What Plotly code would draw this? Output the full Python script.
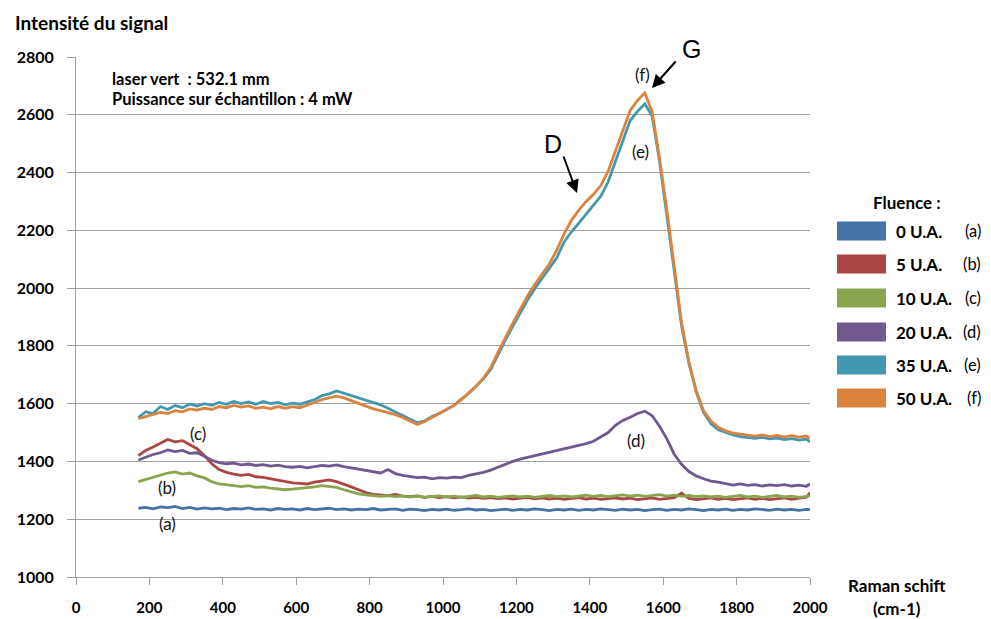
import plotly.graph_objects as go

# ---------------- data ----------------
raman_shift = list(range(170, 2000, 20)) + [2000]

fluence_labels = ["0 U.A.", "5 U.A.", "10 U.A.", "20 U.A.", "35 U.A.", "50 U.A."]
series_tags = ["(a)", "(b)", "(c)", "(d)", "(e)", "(f)"]
colors = ["#4572A7", "#AA4643", "#89A54E", "#71588F", "#4198AF", "#DB843D"]

sig_a = [1238, 1241, 1236, 1243, 1240, 1244, 1237, 1241, 1235, 1239,
         1236, 1238, 1233, 1237, 1235, 1239, 1234, 1236, 1232, 1237,
         1234, 1236, 1232, 1237, 1233, 1235, 1238, 1233, 1236, 1232,
         1235, 1233, 1237, 1232, 1234, 1236, 1231, 1235, 1233, 1230,
         1234, 1232, 1235, 1231, 1233, 1236, 1232, 1234, 1230, 1233,
         1235, 1231, 1234, 1232, 1236, 1233, 1230, 1234, 1232, 1235,
         1231, 1234, 1232, 1236, 1233, 1231, 1235, 1232, 1234, 1230,
         1233, 1235, 1231, 1234, 1232, 1236, 1233, 1230, 1234, 1232,
         1235, 1231, 1234, 1232, 1236, 1233, 1231, 1235, 1232, 1234,
         1231, 1234, 1233]

sig_b = [1420, 1438, 1450, 1462, 1476, 1468, 1472, 1458, 1444, 1420,
         1392, 1372, 1362, 1356, 1352, 1355, 1347, 1345, 1340, 1336,
         1330, 1326, 1324, 1322, 1328, 1333, 1336, 1330, 1322, 1312,
         1302, 1292, 1286, 1284, 1282, 1286, 1280, 1278, 1281, 1276,
         1279, 1275, 1278, 1274, 1277, 1273, 1276, 1272, 1275, 1271,
         1274, 1270, 1273, 1276, 1271, 1274, 1270, 1273, 1269, 1272,
         1275, 1270, 1273, 1269, 1272, 1274, 1270, 1273, 1268, 1271,
         1274, 1269, 1272, 1275, 1290, 1272, 1268, 1271, 1274, 1269,
         1272, 1268, 1271, 1274, 1269, 1272, 1268, 1271, 1274, 1269,
         1272, 1276, 1292]

sig_c = [1330, 1338, 1346, 1352, 1360, 1364, 1356, 1360, 1350, 1343,
         1330, 1322, 1318, 1316, 1313, 1316, 1310, 1312, 1308, 1305,
         1302, 1304, 1306, 1308, 1312, 1316, 1314, 1310, 1302, 1294,
         1288, 1284, 1282, 1279, 1282, 1278, 1281, 1277, 1280, 1276,
         1279, 1281, 1277, 1280, 1276, 1279, 1282, 1277, 1280, 1276,
         1279, 1281, 1277, 1280, 1276, 1279, 1282, 1278, 1281, 1277,
         1280, 1283, 1279, 1282, 1278, 1281, 1284, 1280, 1283, 1279,
         1282, 1285, 1280, 1283, 1279, 1282, 1278, 1281, 1277, 1280,
         1276, 1279, 1282, 1277, 1280, 1276, 1279, 1282, 1277, 1280,
         1276, 1279, 1281]

sig_d = [1405, 1415, 1424, 1430, 1440, 1434, 1438, 1428, 1430, 1418,
         1404, 1396, 1392, 1394, 1388, 1391, 1386, 1389, 1384, 1387,
         1382, 1380, 1383, 1378, 1381, 1386, 1384, 1388, 1382, 1378,
         1372, 1368, 1364, 1360, 1372, 1358, 1352, 1348, 1344, 1346,
         1340, 1344, 1342, 1346, 1344, 1352, 1356, 1362, 1370, 1380,
         1392, 1400, 1408, 1414, 1420, 1426, 1430, 1438, 1442, 1450,
         1454, 1462, 1470, 1484, 1500, 1525, 1542, 1553, 1566, 1574,
         1558, 1522, 1478, 1425, 1390, 1365, 1350, 1340, 1332, 1328,
         1324, 1318, 1322, 1317, 1320, 1315, 1319, 1316, 1320, 1315,
         1318, 1314, 1322]

sig_e = [1552, 1572, 1566, 1590, 1580, 1594, 1586, 1598, 1592, 1600,
         1594, 1604, 1598, 1608, 1600, 1606, 1598, 1608, 1600, 1604,
         1596, 1602, 1598, 1606, 1614, 1628, 1634, 1644, 1636, 1630,
         1620, 1612, 1604, 1596, 1584, 1572, 1560, 1546, 1534, 1540,
         1556, 1566, 1580, 1594, 1616, 1636, 1660, 1686, 1718, 1770,
         1820, 1868, 1915, 1958, 1998, 2035, 2070, 2105, 2160, 2195,
         2225, 2255, 2285, 2318, 2368, 2440, 2510, 2580, 2612, 2638,
         2595, 2440, 2250, 2060, 1870, 1740, 1640, 1570, 1530, 1510,
         1500, 1492, 1486, 1484, 1480, 1483, 1478, 1481, 1476, 1479,
         1474, 1477, 1468]

sig_f = [1548, 1556, 1562, 1570, 1566, 1576, 1572, 1582, 1578, 1584,
         1580, 1590, 1586, 1594, 1588, 1592, 1584, 1588, 1582, 1590,
         1584, 1590, 1586, 1594, 1604, 1614, 1620, 1626, 1620, 1610,
         1600, 1590, 1582, 1576, 1570, 1562, 1552, 1540, 1528, 1538,
         1552, 1564, 1578, 1594, 1614, 1636, 1660, 1688, 1724, 1778,
         1830, 1878, 1925, 1972, 2012, 2048, 2084, 2132, 2188, 2235,
         2270, 2300, 2325, 2355, 2405, 2475, 2545, 2615, 2650, 2675,
         2610, 2450, 2270, 2070, 1880, 1745, 1645, 1575, 1540, 1518,
         1506, 1498, 1494, 1490, 1488, 1492, 1486, 1490, 1485, 1489,
         1484, 1488, 1480]

all_series = [sig_a, sig_b, sig_c, sig_d, sig_e, sig_f]

x_ticks = list(range(0, 2001, 200))
y_ticks = list(range(1000, 2801, 200))

# ---------------- layout helpers ----------------
# the page body keeps an 8px margin, so the figure is drawn 8px smaller
OFF = 8
W, H = 991 - OFF, 619 - OFF
PLOT_X0, PLOT_X1, PLOT_Y0, PLOT_Y1 = 76, 810, 57, 577   # page pixels
L, R, T, B = PLOT_X0 - OFF, 991 - PLOT_X1, PLOT_Y0 - OFF, 619 - PLOT_Y1
PW, PH = PLOT_X1 - PLOT_X0, PLOT_Y1 - PLOT_Y0


def xp(px):
    return (px - PLOT_X0) / PW


def yp(py):
    return (PLOT_Y1 - py) / PH


FONT = "Lato, 'Open Sans', Arial, sans-serif"
GRID = "#a0a0a0"

fig = go.Figure()
for name, ys, col in zip(fluence_labels, all_series, colors):
    fig.add_trace(go.Scatter(x=raman_shift, y=ys, mode="lines", name=name,
                             line=dict(color=col, width=2.8), showlegend=False))

annotations = []
shapes = []


def txt(text, px, py, size, bold=False, color="#000", xanchor="center", family=FONT):
    t = f"<b>{text}</b>" if bold else text
    annotations.append(dict(text=t, x=xp(px), y=yp(py), xref="paper", yref="paper",
                            xanchor=xanchor, yanchor="middle", showarrow=False,
                            font=dict(size=size, color=color, family=family)))


# axis titles
txt("Intensité du signal", 13, 22, 19, bold=True, xanchor="left")
txt("Raman schift", 897, 585, 17, bold=True)
txt("(cm-1)", 897, 608, 17, bold=True)

# info box
txt("laser vert  : 532.1 mm", 110, 79, 16.5, bold=True, xanchor="left")
txt("Puissance sur échantillon : 4 mW", 110, 99, 16.5, bold=True, xanchor="left")

# curve tags
tag_pos = [(167, 523), (167, 488), (198, 433), (636, 440), (640, 151), (642, 74)]
for tag, (px, py) in zip(series_tags, tag_pos):
    txt(tag, px, py, 17, color="#111")

# D and G with arrows
txt("D", 553, 144, 25, family="'Liberation Sans', Arial, sans-serif")
txt("G", 691, 49, 25, family="'Liberation Sans', Arial, sans-serif")
for head, tail in [((652, 88), (677, 60)), ((577, 193), (563, 155))]:
    annotations.append(dict(text="", x=xp(head[0]), y=yp(head[1]), xref="paper", yref="paper",
                            ax=tail[0] - head[0], ay=tail[1] - head[1],
                            showarrow=True, arrowhead=2, arrowsize=1.3, arrowwidth=2,
                            arrowcolor="#000"))

# legend (drawn)
txt("Fluence :", 907, 202, 17, bold=True)
leg_y = [231, 264, 298, 332, 365, 398]
for name, tag, col, cy in zip(fluence_labels, series_tags, colors, leg_y):
    shapes.append(dict(type="rect", xref="paper", yref="paper",
                       x0=xp(837), x1=xp(886), y0=yp(cy + 9.5), y1=yp(cy - 9.5),
                       fillcolor=col, line=dict(color=col, width=0)))
    txt(name, 894, cy, 17, bold=True, xanchor="left")
    txt(tag, 983, cy, 16.5, color="#000", xanchor="right")

fig.update_layout(
    width=W, height=H,
    margin=dict(l=L, r=R, t=T, b=B, autoexpand=False),
    paper_bgcolor="white", plot_bgcolor="white",
    annotations=annotations, shapes=shapes,
    font=dict(family=FONT, color="#000"),
)
fig.update_xaxes(range=[0, 2000], tickvals=x_ticks, showgrid=False, automargin=False,
                 showline=True, linecolor=GRID, linewidth=1,
                 ticks="outside", ticklen=7, tickcolor=GRID,
                 ticklabelstandoff=10,
                 tickfont=dict(size=15, family=FONT, color="#000", weight="bold"),
                 zeroline=False)
fig.update_yaxes(range=[1000, 2800], tickvals=y_ticks, showgrid=True, automargin=False,
                 gridcolor=GRID, gridwidth=1,
                 showline=True, linecolor=GRID, linewidth=1,
                 ticks="outside", ticklen=8, tickcolor=GRID,
                 ticklabelstandoff=10,
                 tickfont=dict(size=16, family=FONT, color="#000", weight="bold"),
                 zeroline=False)

fig.write_html("out.html")
